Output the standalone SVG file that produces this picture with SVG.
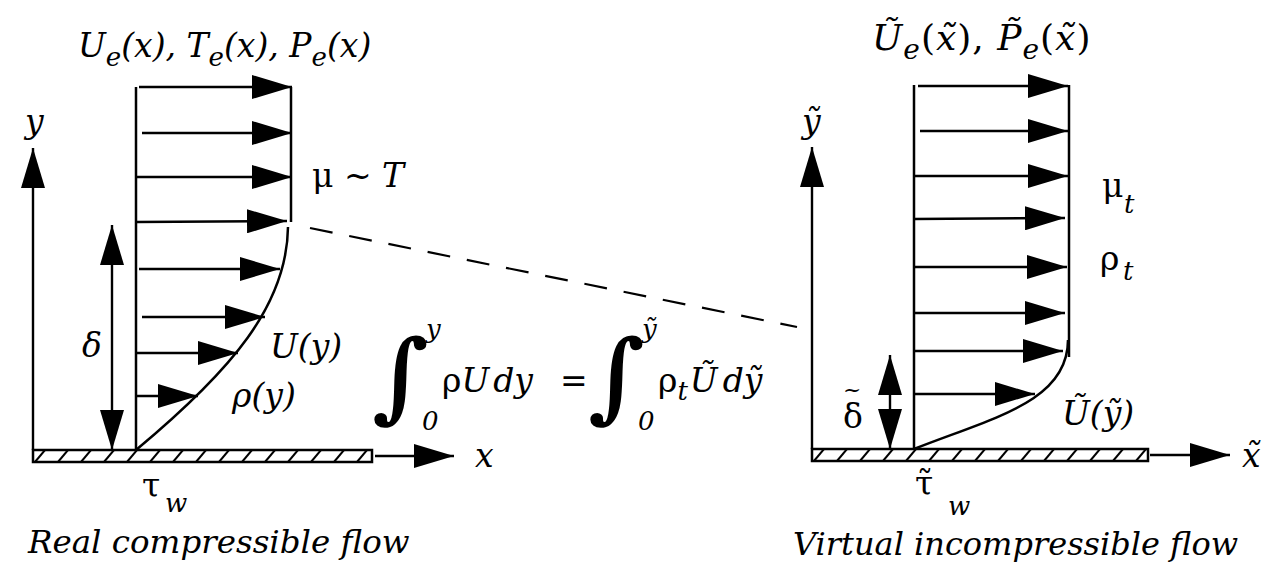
<svg xmlns="http://www.w3.org/2000/svg" width="1271" height="570" viewBox="0 0 1271 570" font-family="DejaVu Serif, Liberation Serif, serif">
<style>
text{fill:#000;font-size:33px}
.i{font-style:italic}
.sub{font-size:26px}
.lt{font-size:33px}
.rt{font-size:36px}
.rts{font-size:28px}
.int{font-size:98px;font-weight:bold}
.lim{font-size:26px;font-weight:normal;font-style:italic}
.ln{stroke:#000;stroke-width:2.5;fill:none}
.ar{stroke:#000;stroke-width:2.4;fill:none;marker-end:url(#ah)}
.dbl{stroke:#000;stroke-width:2.4;fill:none;marker-end:url(#ah);marker-start:url(#ahs)}
.plate{stroke:#000;stroke-width:2.5}
</style>
<defs>
<marker id="ah" markerUnits="userSpaceOnUse" markerWidth="40" markerHeight="24" viewBox="0 0 40 24" refX="40" refY="12" orient="auto"><path d="M0,0 L40,12 L0,24 z" fill="#000"/></marker>
<marker id="ahs" markerUnits="userSpaceOnUse" markerWidth="40" markerHeight="24" viewBox="0 0 40 24" refX="0" refY="12" orient="auto"><path d="M40,0 L0,12 L40,24 z" fill="#000"/></marker>
<pattern id="hatchL" patternUnits="userSpaceOnUse" x="33" y="450" width="23" height="12"><path d="M2,12 L12,0" stroke="#000" stroke-width="2"/></pattern>
<pattern id="hatchR" patternUnits="userSpaceOnUse" x="812" y="449" width="23" height="12"><path d="M2,12 L12,0" stroke="#000" stroke-width="2"/></pattern>
</defs>
<rect width="1271" height="570" fill="#fff"/>

<g id="left-panel">
  <line class="ar" x1="33" y1="450" x2="33" y2="148"/>
  <line class="ar" x1="375" y1="456" x2="454" y2="456"/>
  <rect class="plate" x="33" y="450" width="339" height="12" fill="url(#hatchL)"/>
  <line class="ln" x1="136" y1="87" x2="136" y2="450"/>
  <line class="ln" x1="291" y1="87" x2="291" y2="222"/>
  <path class="ln" d="M288,227 C287,305 232,370 136,450"/>
  <line class="ar" x1="139" y1="87" x2="292" y2="87"/>
  <line class="ar" x1="142" y1="133" x2="292" y2="133"/>
  <line class="ar" x1="136" y1="177" x2="292" y2="177"/>
  <line class="ar" x1="136" y1="222" x2="287" y2="221"/>
  <line class="ar" x1="139" y1="269" x2="280" y2="269"/>
  <line class="ar" x1="142" y1="317" x2="265" y2="317"/>
  <line class="ar" x1="136" y1="353" x2="238" y2="353"/>
  <line class="ar" x1="136" y1="396" x2="198" y2="396"/>
  <line class="dbl" x1="112" y1="225" x2="112" y2="450"/>
  <text class="i lt" x="78" y="57">U<tspan class="sub" dy="9">e</tspan><tspan dy="-9">(x), T</tspan><tspan class="sub" dy="9">e</tspan><tspan dy="-9">(x), P</tspan><tspan class="sub" dy="9">e</tspan><tspan dy="-9">(x)</tspan></text>
  <text class="i" x="25" y="133">y</text>
  <text class="i" x="475" y="467">x</text>
  <text x="312" y="187">μ ~ <tspan class="i">T</tspan></text>
  <text class="i" x="82" y="357">δ</text>
  <text class="i" x="270" y="358">U(y)</text>
  <text class="i" x="232" y="407">ρ(y)</text>
  <text x="142" y="497">τ<tspan class="sub i" x="165" y="512">w</tspan></text>
  <text class="i" x="28" y="553" style="font-size:32.5px">Real compressible flow</text>
</g>

<g id="equation">
  <text class="int" x="372" y="410">∫<tspan class="lim" x="426" y="338">y</tspan><tspan class="lim" x="422" y="430">0</tspan></text>
  <text x="442" y="392">ρ<tspan class="i">U</tspan><tspan class="i" dx="4">dy</tspan></text>
  <text x="560" y="392">=</text>
  <text class="int" x="588" y="410">∫<tspan class="lim" x="642" y="338">ỹ</tspan><tspan class="lim" x="638" y="430">0</tspan></text>
  <text x="658" y="392">ρ<tspan class="sub i" dy="8">t</tspan><tspan class="i" dy="-8" dx="2">Ũ</tspan><tspan class="i" dx="5">dỹ</tspan></text>
</g>

<g id="right-panel">
  <line class="ar" x1="812" y1="449" x2="812" y2="147"/>
  <line class="ar" x1="1150" y1="455" x2="1230" y2="455"/>
  <rect class="plate" x="812" y="449" width="336" height="12" fill="url(#hatchR)"/>
  <line class="ln" x1="914" y1="85" x2="914" y2="449"/>
  <line class="ln" x1="1069" y1="85" x2="1069" y2="357"/>
  <path class="ln" d="M1068,340 C1068,402 992,418 914,449"/>
  <line class="ar" x1="918" y1="86" x2="1068" y2="86"/>
  <line class="ar" x1="920" y1="131" x2="1068" y2="131"/>
  <line class="ar" x1="914" y1="176" x2="1068" y2="176"/>
  <line class="ar" x1="914" y1="219" x2="1065" y2="218"/>
  <line class="ar" x1="914" y1="267" x2="1067" y2="267"/>
  <line class="ar" x1="914" y1="313" x2="1065" y2="313"/>
  <line class="ar" x1="914" y1="351" x2="1063" y2="351"/>
  <line class="ar" x1="914" y1="394" x2="1035" y2="394"/>
  <line class="dbl" x1="890" y1="355" x2="890" y2="449"/>
  <text class="rt" x="872" y="50" letter-spacing="1"><tspan class="i">Ũ</tspan><tspan class="rts i" dy="9">e</tspan><tspan dy="-9">(</tspan><tspan class="i">x̃</tspan><tspan>), </tspan><tspan class="i">P̃</tspan><tspan class="rts i" dy="9">e</tspan><tspan dy="-9">(</tspan><tspan class="i">x̃</tspan><tspan>)</tspan></text>
  <text class="i" x="802" y="133">ỹ</text>
  <text class="i" x="1242" y="467">x̃</text>
  <text x="1102" y="197">μ<tspan class="sub i" x="1124" y="213">t</tspan></text>
  <text x="1100" y="270">ρ<tspan class="sub i" x="1123" y="280">t</tspan></text>
  <text x="843" y="428">δ<tspan x="843" y="397" style="font-size:22px">~</tspan></text>
  <text class="i" x="1062" y="425">Ũ(ỹ)</text>
  <text x="915" y="495">τ̃<tspan class="sub i" x="948" y="515">w</tspan></text>
  <text class="i" x="793" y="555" style="font-size:32px">Virtual incompressible flow</text>
</g>

<g id="connectors">
  <line x1="310" y1="228" x2="797" y2="327" stroke="#000" stroke-width="2.2" stroke-dasharray="23 17"/>
</g>
</svg>
